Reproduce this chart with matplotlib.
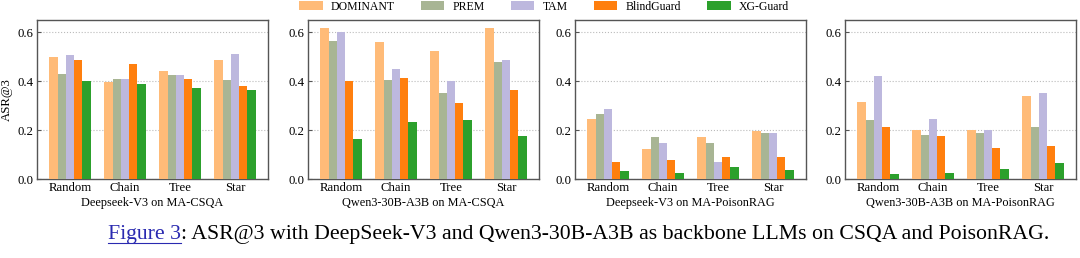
import matplotlib
matplotlib.use("Agg")
import matplotlib.pyplot as plt
from matplotlib.lines import Line2D
import numpy as np

plt.rcParams['font.family'] = ['Liberation Serif', 'DejaVu Serif']

topologies = ["Random", "Chain", "Tree", "Star"]
methods = ["DOMINANT", "PREM", "TAM", "BlindGuard", "XG-Guard"]
colors = ["#ffbb78", "#a8b594", "#bdb8de", "#ff7f0e", "#2ca02c"]
titles = ["Deepseek-V3 on MA-CSQA", "Qwen3-30B-A3B on MA-CSQA",
          "Deepseek-V3 on MA-PoisonRAG", "Qwen3-30B-A3B on MA-PoisonRAG"]

# values[panel][method] -> per topology
ds_csqa = [
    [0.500, 0.398, 0.443, 0.487],
    [0.428, 0.408, 0.426, 0.405],
    [0.505, 0.408, 0.426, 0.511],
    [0.487, 0.472, 0.408, 0.380],
    [0.401, 0.389, 0.371, 0.364],
]
qw_csqa = [
    [0.618, 0.560, 0.522, 0.618],
    [0.565, 0.405, 0.353, 0.479],
    [0.601, 0.449, 0.402, 0.487],
    [0.401, 0.412, 0.312, 0.363],
    [0.165, 0.233, 0.241, 0.176],
]
ds_rag = [
    [0.244, 0.121, 0.172, 0.198],
    [0.265, 0.173, 0.149, 0.190],
    [0.285, 0.147, 0.071, 0.188],
    [0.070, 0.078, 0.090, 0.089],
    [0.031, 0.026, 0.050, 0.038],
]
qw_rag = [
    [0.314, 0.199, 0.199, 0.341],
    [0.241, 0.181, 0.187, 0.214],
    [0.420, 0.244, 0.202, 0.350],
    [0.211, 0.177, 0.125, 0.135],
    [0.019, 0.025, 0.041, 0.065],
]
panels = [ds_csqa, qw_csqa, ds_rag, qw_rag]

caption_link = "Figure 3"
caption_rest = ": ASR@3 with DeepSeek-V3 and Qwen3-30B-A3B as backbone LLMs on CSQA and PoisonRAG."

W, H = 1080, 258
fig = plt.figure(figsize=(W / 100, H / 100), dpi=100)

lefts = [37, 308, 575, 845]
width_px = 231
top_px, bot_px = 20, 179

x = np.arange(len(topologies))
bw = 0.15
handles = []
for pi, data in enumerate(panels):
    ax = fig.add_axes([lefts[pi] / W, 1 - bot_px / H, width_px / W, (bot_px - top_px) / H])
    for mi, m in enumerate(methods):
        b = ax.bar(x + (mi - 2) * bw, data[mi], bw, color=colors[mi], label=m, zorder=3)
        if pi == 0:
            handles.append(b)
    ax.set_xlim(-0.6, 3.6)
    ax.set_ylim(0, 0.65)
    ax.set_yticks([0.0, 0.2, 0.4, 0.6])
    ax.set_yticklabels(["0.0", "0.2", "0.4", "0.6"])
    ax.set_xticks(x)
    ax.set_xticklabels(topologies)
    ax.tick_params(direction='in', labelsize=9.2, length=3, color='#555555', pad=2.5)
    ax.grid(axis='y', linestyle=':', color='#bbbbbb', linewidth=0.8, zorder=0)
    for s in ax.spines.values():
        s.set_color('#555555')
        s.set_linewidth(1.0)
    ax.set_xlabel(titles[pi], fontsize=8.8, labelpad=1.5)
    if pi == 0:
        ax.set_ylabel("ASR@3", fontsize=9.2, labelpad=3)

fig.legend(handles, methods, loc='center', bbox_to_anchor=(544 / W, 1 - 6.5 / H),
           ncol=5, frameon=False, fontsize=8.5, handlelength=2.0, handleheight=0.7,
           columnspacing=2.2, handletextpad=0.7, borderpad=0)

cap_y = 1 - 234 / H
t1 = fig.text(108 / W, cap_y, caption_link, color='#2a2ab0', fontsize=15.7,
              ha='left', va='center')
fig.canvas.draw()
r = fig.canvas.get_renderer()
bb = t1.get_window_extent(renderer=r)
fig.text(bb.x1 / W, cap_y, caption_rest, color='black', fontsize=15.7,
         ha='left', va='center')
uy = (bb.y0 + 1) / H
fig.add_artist(Line2D([bb.x0 / W, bb.x1 / W], [uy, uy], color='#2a2ab0',
                      linewidth=0.8, transform=fig.transFigure))

fig.savefig("out.png", dpi=100)
